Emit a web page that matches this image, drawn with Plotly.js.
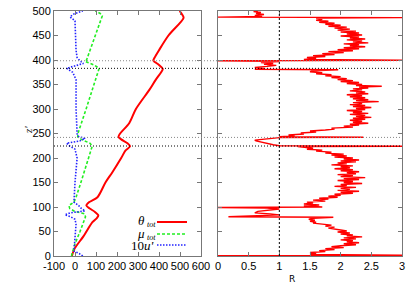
<!DOCTYPE html>
<html>
<head>
<meta charset="utf-8">
<script src="https://cdn.plot.ly/plotly-3.0.1.min.js"></script>
<style>html,body{margin:0;padding:0;background:#fff;}#chart{width:415px;height:289px;}</style>
</head>
<body>
<div id="chart"></div>
<script>
// Left panel: theta_tot, mu_tot, 10u' versus z
const thetaZ = [0,15,40,69,78,83,90,97,103,110,120,150,171,200,215,224,230,238,243,250,271,300,339,360,375,382,390,399,404,420,450,486,493,500];
const thetaV = [-15,-2,40,83,105,111,95,70,54,68,107,145,178,220,240,262,250,220,207,215,258,290,354,385,410,418,400,373,378,400,445,517,510,498];

const muZ = [0,25,50,70,80,86,92,97,103,110,120,150,171,200,224,230,238,243,250,300,339,360,383,390,397,400,450,490,495,500];
const muV = [-17,0,24,40,50,45,-5,-25,-29,-5,5,28,43,62,82,72,30,13,14,53,83,98,115,90,48,55,97,130,120,97];

const uZ = [0,5,10,30,50,65,75,80,84,88,92,97,102,110,150,200,218,224,230,235,240,244,250,300,360,375,383,388,393,398,405,420,480,488,494,500];
const uV = [37,20,-5,-2,0,5,0,-20,-48,-24,48,30,20,-5,0,10,0,-24,-40,24,48,16,10,5,5,-11,-40,0,40,24,10,5,0,-24,-5,37];

// Right panel: R versus z
const rZ = [0,0.7,1.5,3,5,7,9,11,13,15,17,19,21,23,25,27,29,31,33,35,37,39,41,43,45,47,49,51,53,55,57,59,61,63,65,67,69,71,73,75,77,79,
  80,82,84,86,88,91,94,96,98,99,100,
  102,104,106,108,110,112,114,116,118,120,122,124,
  126,128,130,132,134,136,138,140,142,144,146,148,150,152,154,156,158,160,162,164,166,168,170,172,174,176,178,180,182,184,186,188,190,192,194,196,198,200,202,204,206,208,
  210,212,214,216,218,220,222,223.5,224,225,227,229,231,233,235,236.5,238,240,241.5,242.5,243.5,245,247,249,251,253,255,257,259,261,263,265,267,269,271,273,275,277,
  279,281,283,285,287,289,291,293,295,297,299,301,303,305,307,309,311,313,315,317,319,321,323,325,327,329,331,333,335,337,339,341,343,345,346.5,348,350,352,
  354,356,358,360,362,364,366,368,370,372,374,376,378,380,381,
  383,385,387,389,391,393,395,397,398.5,399.5,401,
  403,405,407,409,411,413,415,417,419,421,423,425,427,429,431,433,435,437,439,441,443,445,447,449,451,453,455,457,459,461,463,465,467,469,471,473,475,477,479,481,483,485,486.5,487.5,
  489,491,493,495,497,499,500];
const rV = [0.7,0.0,3.0,1.5,1.6,1.5,1.75,1.65,1.9,1.75,2.05,1.85,2.0,2.25,2.05,2.3,2.1,2.2,2.0,2.25,2.05,2.35,2.1,2.2,2.0,2.15,1.95,2.1,2.0,1.9,1.8,1.9,1.75,1.85,1.7,1.55,1.6,1.5,1.58,1.48,1.55,1.88,
  0.17,0.6,1.0,0.85,0.6,0.65,0.85,1.0,0.8,0.0,1.7,
  1.4,1.65,1.4,1.55,1.45,1.75,1.55,1.8,1.65,1.95,1.8,2.0,
  1.9,2.2,2.0,2.3,1.95,2.15,2.0,2.25,1.9,2.1,2.0,2.35,2.05,2.2,1.95,2.3,2.05,2.4,2.0,2.2,1.95,2.25,2.1,2.3,2.0,2.2,1.9,2.15,2.0,2.2,1.85,2.1,1.95,2.25,2.0,2.3,2.05,2.2,1.9,2.1,1.85,2.05,
  1.75,1.85,1.6,1.7,1.45,1.55,1.35,1.3,3.0,1.0,0.9,0.82,0.75,0.68,0.62,0.6,0.7,0.85,1.0,2.37,1.0,1.25,1.15,1.4,1.35,1.6,1.5,1.75,1.9,1.85,2.2,2.05,2.3,2.15,2.45,2.2,2.35,2.15,
  2.4,2.2,2.5,2.25,2.4,2.15,2.45,2.2,2.35,2.1,2.4,2.25,2.5,2.2,2.4,2.15,2.35,2.2,2.62,2.25,2.45,2.2,2.4,2.15,2.35,2.1,2.45,2.25,2.4,2.15,2.35,2.2,2.45,2.3,2.67,2.25,2.35,2.1,
  2.3,2.0,2.2,1.95,2.1,1.85,2.0,1.75,1.85,1.6,1.7,1.5,1.55,1.96,0.6,
  0.75,0.6,0.8,0.95,0.75,0.9,0.7,1.0,0.0,3.0,1.4,
  1.6,1.45,1.75,1.55,1.9,1.7,2.05,1.8,2.2,1.95,2.3,2.05,2.4,2.15,2.3,2.05,2.45,2.2,2.35,2.1,2.4,2.15,2.3,2.0,2.35,2.1,2.3,2.0,2.25,1.95,2.15,1.9,2.1,1.8,2.0,1.75,1.9,1.65,1.8,1.6,1.7,1.6,3.0,0.0,
  0.72,0.6,0.75,0.62,0.7,0.58,0.65];

const zTicks = [0,50,100,150,200,250,300,350,400,450,500];
const xTicks = [-100,0,100,200,300,400,500,600];
const xTickText = ['-100','0','100','200','300','400','500','600'];
const rTicks = [0,0.5,1,1.5,2,2.5,3];
const markZ = [398.5, 383, 242, 224.5];
const markColor = ['#888888','#000000','#888888','#000000'];

const W = 415, H = 289;
const px = v => v / W;
const py = v => (H - v) / H;

const traces = [
  {x: thetaV, y: thetaZ, type: 'scatter', mode: 'lines', line: {color: '#ff0000', width: 2, shape: 'spline', smoothing: 0.8}, xaxis: 'x', yaxis: 'y', hoverinfo: 'none'},
  {x: muV, y: muZ, type: 'scatter', mode: 'lines', line: {color: '#22ee22', width: 1.6, dash: '3px,2px'}, xaxis: 'x', yaxis: 'y', hoverinfo: 'none'},
  {x: uV, y: uZ, type: 'scatter', mode: 'lines', line: {color: '#2222ff', width: 1.6, dash: '1.5px,1.5px'}, xaxis: 'x', yaxis: 'y', hoverinfo: 'none'},
  {x: rV, y: rZ, type: 'scatter', mode: 'lines', line: {color: '#ff0000', width: 1.4}, xaxis: 'x2', yaxis: 'y2', hoverinfo: 'none'}
];

const tickFont = {family: 'Liberation Sans, Arial, sans-serif', size: 11, color: '#000'};
const axCommon = {showline: true, linecolor: '#777', linewidth: 1, mirror: 'ticks', ticks: 'inside', ticklen: 4, tickcolor: '#777', showgrid: false, zeroline: false, tickfont: tickFont, tickangle: 0, fixedrange: true};

const shapes = [];
markZ.forEach((z, i) => {
  shapes.push({type: 'line', xref: 'paper', yref: 'y', x0: px(54), x1: px(402), y0: z, y1: z, line: {color: markColor[i], width: 1, dash: '1px,2px'}});
});
shapes.push({type: 'line', xref: 'x2', yref: 'y2', x0: 1, x1: 1, y0: 0, y1: 500, line: {color: '#000', width: 1, dash: '2px,2px'}});

const serif = 'Liberation Serif, serif';
const legendItems = [
  {main: '<i>θ</i>', sub: '<i>tot</i>', y: 222, color: '#ff0000', dash: 'solid', width: 2},
  {main: '<i>μ</i>', sub: '<i>tot</i>', y: 234, color: '#22ee22', dash: '3px,2px', width: 1.6},
  {main: '10<i>u\'</i>', sub: '', y: 245, color: '#2222ff', dash: '1.5px,1.5px', width: 1.6}
];
const annotations = [];
legendItems.forEach(it => {
  shapes.push({type: 'line', xref: 'paper', yref: 'paper', x0: px(157), x1: px(187), y0: py(it.y), y1: py(it.y), line: {color: it.color, width: it.width, dash: it.dash}});
  if (it.sub) {
    annotations.push({xref: 'paper', yref: 'paper', x: px(146), y: py(it.y - 1), xanchor: 'right', yanchor: 'middle', showarrow: false, text: it.main, font: {family: serif, size: 13, color: '#000'}, borderpad: 0});
    annotations.push({xref: 'paper', yref: 'paper', x: px(146), y: py(it.y + 3), xanchor: 'left', yanchor: 'middle', showarrow: false, text: it.sub, font: {family: serif, size: 8, color: '#000'}, borderpad: 0});
  } else {
    annotations.push({xref: 'paper', yref: 'paper', x: px(155), y: py(it.y), xanchor: 'right', yanchor: 'middle', showarrow: false, text: it.main, font: {family: serif, size: 13, color: '#000'}, borderpad: 0});
  }
});
annotations.push({xref: 'paper', yref: 'paper', x: px(28), y: py(130), xanchor: 'center', yanchor: 'middle', showarrow: false, textangle: -90, text: "<i>z'</i>", font: {family: serif, size: 11, color: '#000'}});
annotations.push({xref: 'paper', yref: 'paper', x: px(292), y: py(279), xanchor: 'center', yanchor: 'middle', showarrow: false, text: 'R', font: {family: 'DejaVu Sans, sans-serif', size: 9, color: '#000'}});

const layout = {
  width: W, height: H,
  margin: {l: 0, r: 0, t: 0, b: 0, pad: 0},
  paper_bgcolor: '#fff', plot_bgcolor: '#fff',
  showlegend: false,
  xaxis: Object.assign({}, axCommon, {domain: [px(54), px(201)], range: [-100, 600], tickvals: xTicks, ticktext: xTickText, anchor: 'y'}),
  yaxis: Object.assign({}, axCommon, {domain: [py(256), py(11)], range: [0, 500], tickvals: zTicks, anchor: 'x'}),
  xaxis2: Object.assign({}, axCommon, {domain: [px(218), px(402)], range: [0, 3], tickvals: rTicks, anchor: 'y2'}),
  yaxis2: Object.assign({}, axCommon, {domain: [py(256), py(11)], range: [0, 500], tickvals: zTicks, showticklabels: false, anchor: 'x2'}),
  shapes: shapes,
  annotations: annotations
};

Plotly.newPlot('chart', traces, layout, {staticPlot: true, displayModeBar: false});
</script>
</body>
</html>
